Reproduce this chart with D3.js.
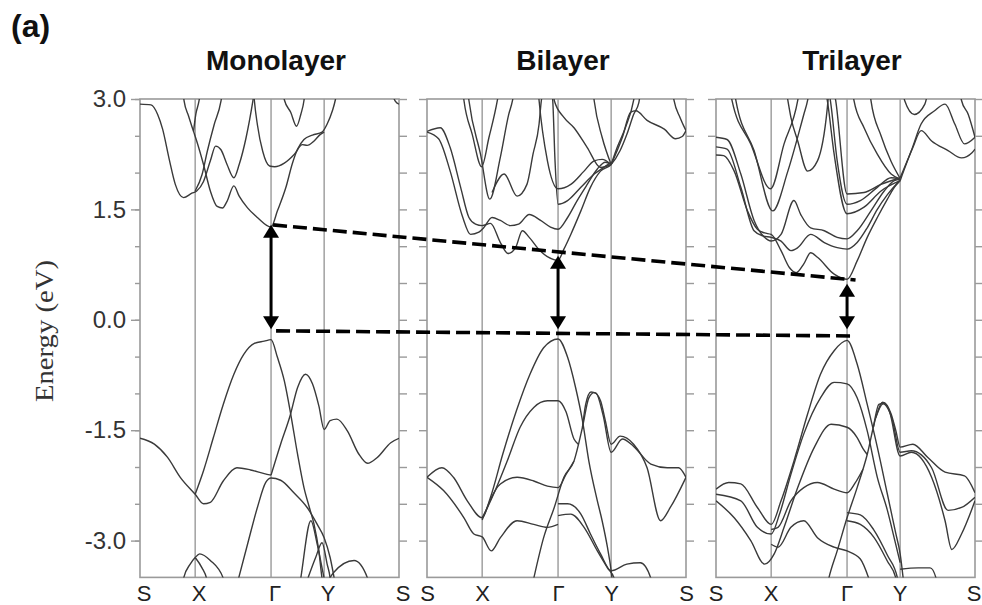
<!DOCTYPE html>
<html>
<head>
<meta charset="utf-8">
<script src="https://cdn.jsdelivr.net/npm/d3@7"></script>
<style>
  body { margin: 0; background: #fff; }
  svg text { font-family: "Liberation Sans", Arial, sans-serif; }
</style>
</head>
<body>
<div id="my_dataviz"></div>
<script>

// chart values
var panelTitles = ["Monolayer", "Bilayer", "Trilayer"];
var kPoints = [0, 1, 2, 3, 4];              // S, X, Gamma, Y, S
var kLabels = ["S", "X", "\u0393", "Y", "S"];
var energyLabels = [-3.0, -1.5, 0.0, 1.5, 3.0];
var energyTicks = [-3.0, -2.5, -2.0, -1.5, -1.0, -0.5, 0.0, 0.5, 1.0, 1.5, 2.0, 2.5, 3.0];

// band gap arrows at Gamma (eV), one per panel
var gapTop = [1.29, 0.87, 0.49];
var gapBottom = [-0.13, -0.13, -0.13];
// dashed guide lines: [start at monolayer, end at trilayer]
var cbmLine = [1.29, 0.54];
var vbmLine = [-0.15, -0.22];

// bands as [k, E] ; k in path units (S=0, X=1, G=2, Y=3, S=4)
var monoConduction = [
  [[0,2.93],[0.2,2.92],[0.32,2.79],[0.41,2.59],[0.53,2.18],[0.64,1.84],[0.79,1.66],[0.94,1.72],[1.02,1.75],[1.11,1.88],[1.2,2.16],[1.27,2.36],[1.34,2.31],[1.42,2.11],[1.51,1.93],[1.58,2.11],[1.67,2.47],[1.76,2.97],[1.78,3.1]],
  [[1.0,1.75],[1.09,1.97],[1.16,2.29],[1.25,2.65],[1.34,2.97],[1.36,3.1]],
  [[0.78,3.1],[0.8,2.97],[0.88,2.77],[0.97,2.56],[1.02,2.43],[1.11,2.11],[1.2,1.75],[1.29,1.54],[1.36,1.52],[1.42,1.61],[1.51,1.82],[1.58,1.68],[1.69,1.52],[1.82,1.39],[2.0,1.26],[2.12,1.48],[2.28,1.8],[2.4,2.12],[2.5,2.32],[2.62,2.45],[2.78,2.51],[2.96,2.55],[3.04,2.66],[3.11,2.84],[3.15,2.99],[3.17,3.1]],
  [[0.97,2.56],[1.01,2.8],[1.05,2.97],[1.07,3.1]],
  [[1.77,3.1],[1.78,2.98],[1.82,2.65],[1.89,2.29],[1.98,2.09],[2.07,2.08],[2.25,2.13],[2.44,2.25],[2.59,2.38],[2.68,2.37],[2.81,2.43],[2.93,2.52],[3.0,2.55]],
  [[2.23,3.1],[2.25,2.99],[2.37,2.82],[2.48,2.63],[2.56,2.79],[2.62,2.98],[2.64,3.1]],
  [[3.9,3.1],[3.95,2.97],[4.0,2.93]]
];
var monoValence = [
  [[1.0,-2.37],[1.11,-2.05],[1.24,-1.6],[1.37,-1.15],[1.51,-0.74],[1.64,-0.47],[1.78,-0.32],[1.91,-0.29],[2.0,-0.27],[2.12,-0.51],[2.25,-0.83],[2.37,-1.28],[2.5,-1.83],[2.62,-2.28],[2.73,-2.57],[2.81,-2.78],[2.9,-3.14],[2.96,-3.51],[2.98,-3.6]],
  [[2.0,-2.11],[2.18,-1.69],[2.36,-1.3],[2.5,-0.92],[2.65,-0.74],[2.78,-0.87],[2.9,-1.17],[3.0,-1.49],[3.08,-1.37],[3.17,-1.35],[3.31,-1.51],[3.46,-1.82],[3.58,-1.95],[3.71,-1.87],[3.89,-1.67],[4.0,-1.61]],
  [[0,-1.61],[0.26,-1.69],[0.5,-1.87],[0.73,-2.14],[1.0,-2.37],[1.11,-2.5],[1.2,-2.48],[1.37,-2.19],[1.55,-2.01],[1.73,-2.04],[1.91,-2.09],[2.0,-2.11]],
  [[1.55,-3.6],[1.69,-3.05],[1.82,-2.55],[1.93,-2.21],[2.0,-2.15],[2.18,-2.18],[2.43,-2.35],[2.68,-2.55],[2.87,-2.78],[3.0,-2.96],[3.08,-3.23],[3.15,-3.6]],
  [[0.77,-3.6],[0.79,-3.51],[0.91,-3.32],[1.0,-3.23],[1.06,-3.18],[1.2,-3.27],[1.37,-3.51],[1.4,-3.6]],
  [[1.0,-3.23],[1.09,-3.37],[1.15,-3.51],[1.17,-3.6]],
  [[2.54,-3.6],[2.56,-3.51],[2.75,-2.73],[2.87,-3.05],[3.0,-3.51],[3.02,-3.6]],
  [[2.65,-3.6],[2.84,-3.23],[2.96,-3.03],[3.04,-3.32],[3.08,-3.51],[3.09,-3.6]],
  [[3.02,-3.6],[3.13,-3.43],[3.4,-3.27],[3.58,-3.51],[3.6,-3.6]]
];

var biConduction = [
  [[0,2.56],[0.24,2.61],[0.42,2.34],[0.61,1.8],[0.76,1.39],[0.88,1.3],[1.0,1.28],[1.11,1.31],[1.24,1.05],[1.34,0.9],[1.44,0.98],[1.53,1.21],[1.62,1.12],[1.77,0.93],[2.0,0.81],[2.11,0.96],[2.24,1.16],[2.43,1.48],[2.61,1.8],[2.8,2.02],[3.0,2.11],[3.12,2.3],[3.21,2.52],[3.3,2.79],[3.37,2.95],[3.39,3.1]],
  [[0,2.55],[0.21,2.46],[0.42,2.02],[0.64,1.41],[0.79,1.16],[0.94,1.19],[1.02,1.25],[1.13,1.39],[1.24,1.35],[1.37,1.28],[1.48,1.3],[1.62,1.43],[1.77,1.35],[1.9,1.26],[2.0,1.23],[2.18,1.39],[2.36,1.62],[2.55,1.84],[2.74,2.05],[2.89,2.14],[3.0,2.11]],
  [[0.65,3.1],[0.67,2.98],[0.82,2.52],[0.99,2.08],[1.09,2.48],[1.2,2.98],[1.22,3.1]],
  [[0.74,3.1],[0.76,2.98],[0.97,2.25],[1.1,1.64],[1.24,2.21],[1.35,2.79],[1.4,2.98],[1.42,3.1]],
  [[1.13,1.73],[1.29,1.98],[1.46,1.68],[1.59,1.84],[1.67,2.25],[1.75,2.66],[1.78,2.98],[1.8,3.1]],
  [[1.74,3.1],[1.75,2.98],[1.86,2.16],[2.0,1.78],[2.24,1.84],[2.49,2.02],[2.68,2.16],[2.83,2.18],[3.0,2.11]],
  [[1.92,3.1],[1.93,2.98],[1.96,2.16],[2.0,1.57],[2.18,1.62],[2.43,1.8],[2.68,1.98],[2.86,2.07],[3.0,2.14]],
  [[1.94,3.1],[1.95,2.98],[2.11,2.75],[2.3,2.61],[2.55,2.34],[2.8,2.07],[3.0,2.11]],
  [[2.66,3.1],[2.68,2.98],[2.83,2.48],[3.0,2.11]],
  [[3.0,2.11],[3.15,2.48],[3.26,2.82],[3.33,2.84],[3.48,2.71],[3.71,2.59],[3.86,2.46],[3.95,2.49],[4.0,2.57]],
  [[3.0,2.11],[3.08,2.34],[3.19,2.61],[3.3,2.98],[3.32,3.1]],
  [[3.82,3.1],[3.84,2.98],[3.92,2.75],[4.0,2.57]]
];
var biValence = [
  [[0,-2.14],[0.27,-2.01],[0.48,-2.14],[0.73,-2.46],[1.0,-2.69],[1.11,-2.41],[1.27,-1.83],[1.45,-1.24],[1.63,-0.74],[1.81,-0.38],[2.0,-0.26],[2.18,-0.51],[2.33,-0.92],[2.46,-1.37],[2.58,-1.92],[2.74,-2.46],[2.83,-2.73],[2.93,-3.09],[3.0,-3.41],[3.02,-3.6]],
  [[0,-2.14],[0.3,-2.32],[0.67,-2.69],[0.85,-2.91],[1.0,-2.95],[1.12,-3.14],[1.24,-2.96],[1.46,-2.73],[1.68,-2.78],[1.86,-2.82],[2.0,-2.78]],
  [[1.0,-2.69],[1.07,-2.55],[1.18,-2.3],[1.33,-1.92],[1.5,-1.46],[1.68,-1.19],[1.86,-1.1],[2.0,-1.1],[2.15,-1.25],[2.3,-1.62],[2.38,-1.69]],
  [[1.0,-2.72],[1.24,-2.23],[1.46,-2.14],[1.68,-2.19],[1.86,-2.26],[2.0,-2.28],[2.15,-2.1],[2.3,-1.92]],
  [[1.66,-3.6],[1.68,-3.51],[1.81,-2.96],[1.95,-2.55],[2.11,-2.14],[2.3,-1.92],[2.46,-1.46],[2.58,-1.06],[2.68,-0.99],[2.8,-1.1],[2.89,-1.37],[3.0,-1.69],[3.12,-1.58],[3.3,-1.69],[3.48,-2.01],[3.66,-2.73],[3.79,-2.55],[4.0,-2.14]],
  [[2.46,-1.46],[2.52,-1.15],[2.62,-0.98],[2.72,-1.0],[2.85,-1.3],[3.0,-1.8],[3.15,-1.62],[3.3,-1.72],[3.53,-1.96],[3.75,-2.01],[3.9,-2.01],[4.0,-2.14]],
  [[2.0,-2.5],[2.18,-2.5],[2.43,-2.64],[2.61,-2.91],[2.8,-3.18],[3.0,-3.41],[3.21,-3.32],[3.39,-3.3],[3.53,-3.51],[3.55,-3.6]],
  [[2.0,-2.66],[2.24,-2.64],[2.49,-2.82],[2.74,-3.14],[2.93,-3.37],[3.04,-3.51],[3.06,-3.6]]
];

var triConduction = [
  [[0,2.24],[0.14,2.23],[0.33,2.02],[0.57,1.48],[0.75,1.23],[0.88,1.18],[1.0,1.16],[1.13,0.94],[1.24,0.71],[1.33,0.64],[1.43,0.76],[1.52,0.91],[1.61,0.85],[1.83,0.62],[2.0,0.55],[2.19,0.8],[2.38,1.12],[2.57,1.39],[2.76,1.64],[2.89,1.8],[3.0,1.89]],
  [[0,2.35],[0.2,2.32],[0.45,1.8],[0.69,1.21],[0.85,1.14],[1.0,1.12],[1.13,1.07],[1.26,0.94],[1.35,0.98],[1.52,1.16],[1.7,1.05],[1.87,0.98],[2.0,0.96],[2.19,1.05],[2.38,1.25],[2.57,1.5],[2.76,1.7],[3.0,1.9]],
  [[0,2.48],[0.2,2.45],[0.45,1.98],[0.69,1.35],[0.88,1.12],[1.0,1.07],[1.13,1.16],[1.3,1.62],[1.39,1.43],[1.52,1.25],[1.7,1.21],[1.87,1.12],[2.0,1.1],[2.19,1.21],[2.45,1.48],[2.7,1.75],[2.89,1.89],[3.0,1.91]],
  [[1.76,3.1],[1.78,2.98],[1.87,2.16],[2.0,1.57],[2.25,1.62],[2.57,1.8],[2.83,1.93],[3.0,1.91]],
  [[1.72,3.1],[1.74,2.98],[1.83,2.25],[2.0,1.44],[2.32,1.53],[2.64,1.75],[3.0,1.89]],
  [[1.83,3.1],[1.85,2.98],[2.0,1.71],[2.32,1.73],[2.64,1.84],[3.0,1.93]],
  [[0.27,3.1],[0.29,2.98],[0.63,2.39],[0.99,1.78],[1.17,2.39],[1.35,2.98],[1.37,3.1]],
  [[0.34,3.1],[0.36,2.98],[0.69,2.3],[1.02,1.48],[1.22,2.02],[1.43,2.79],[1.48,2.98],[1.5,3.1]],
  [[1.2,3.1],[1.22,2.98],[1.26,2.75],[1.35,2.43],[1.48,2.02],[1.61,2.16],[1.74,2.88],[1.76,3.1]],
  [[3.0,1.89],[3.17,2.34],[3.28,2.57],[3.42,2.43],[3.64,2.3],[3.82,2.2],[3.96,2.27],[4.0,2.32]],
  [[3.0,1.93],[3.15,2.3],[3.28,2.66],[3.46,2.84],[3.6,2.93],[3.73,2.66],[3.86,2.39],[4.0,2.48]],
  [[3.8,3.1],[3.82,2.98],[3.91,2.79],[4.0,2.48]],
  [[3.04,3.1],[3.06,2.98],[3.19,2.79],[3.33,2.93],[3.37,3.1]],
  [[2.11,3.1],[2.13,2.98],[2.32,2.61],[2.57,2.25],[2.83,1.98],[3.0,1.91]],
  [[2.43,3.1],[2.45,2.98],[2.64,2.5],[2.83,2.15],[3.0,1.92]]
];
var triValence = [
  [[0,-2.3],[0.23,-2.21],[0.45,-2.23],[0.75,-2.55],[1.0,-2.78],[1.13,-2.46],[1.3,-1.92],[1.48,-1.28],[1.65,-0.74],[1.83,-0.42],[2.0,-0.28],[2.19,-0.6],[2.38,-1.15],[2.57,-1.73],[2.76,-2.37],[2.92,-2.91],[3.0,-3.18],[3.05,-3.6]],
  [[0,-2.37],[0.45,-2.46],[0.75,-2.82],[1.0,-2.91],[1.11,-2.64],[1.26,-2.1],[1.43,-1.55],[1.65,-1.06],[1.83,-0.85],[2.0,-0.87],[2.19,-1.06],[2.38,-1.51],[2.57,-2.14],[2.76,-2.59],[2.9,-3.0],[3.0,-3.3]],
  [[0,-2.46],[0.33,-2.69],[0.63,-3.0],[0.88,-3.32],[1.04,-3.18],[1.17,-2.82],[1.35,-2.28],[1.57,-1.73],[1.79,-1.42],[2.0,-1.46],[2.19,-1.6],[2.3,-1.75],[2.38,-1.83]],
  [[1.0,-2.85],[1.09,-2.82],[1.26,-2.46],[1.43,-2.28],[1.61,-2.21],[1.83,-2.3],[2.0,-2.35],[2.15,-2.22],[2.3,-2.03]],
  [[1.0,-3.05],[1.09,-3.09],[1.26,-2.82],[1.43,-2.73],[1.61,-2.96],[1.83,-3.09],[2.0,-3.14],[2.25,-3.25],[2.45,-3.6]],
  [[1.74,-3.6],[1.76,-3.51],[1.87,-3.14],[2.0,-2.69],[2.19,-2.28],[2.38,-1.83],[2.54,-1.33],[2.67,-1.12],[2.83,-1.28],[2.92,-1.51],[3.0,-1.73],[3.17,-1.69],[3.37,-1.87],[3.6,-2.07],[3.86,-2.12],[4.0,-2.35]],
  [[2.5,-1.45],[2.6,-1.15],[2.7,-1.13],[2.85,-1.35],[3.0,-1.8],[3.15,-1.78],[3.42,-2.01],[3.64,-2.59],[3.82,-2.55],[4.0,-2.41]],
  [[2.54,-1.33],[2.68,-1.14],[2.8,-1.25],[3.0,-1.85],[3.15,-1.8],[3.42,-2.14],[3.6,-2.73],[3.69,-3.12],[3.82,-2.91],[4.0,-2.46]],
  [[2.0,-2.73],[2.25,-2.78],[2.51,-2.96],[2.76,-3.28],[2.92,-3.51],[2.94,-3.6]],
  [[2.0,-2.62],[2.25,-2.65],[2.5,-2.85],[2.76,-3.2],[2.95,-3.51],[2.97,-3.6]],
  [[3.0,-3.39],[3.24,-3.37],[3.4,-3.37],[3.48,-3.51],[3.5,-3.6]]
];

var panelBands = [
  monoConduction.concat(monoValence),
  biConduction.concat(biValence),
  triConduction.concat(triValence)
];

// layout
var width = 982, height = 605;
var panelLeft = [140, 427, 716],
    panelWidth = 259,
    plotTop = 99,
    plotBottom = 577.4;
var kFrac = [0, 0.213, 0.506, 0.711, 1];
var labelShift = [4, 0.5, 0];

var svg = d3.select("#my_dataviz")
  .append("svg")
    .attr("width", width)
    .attr("height", height)
    .style("display", "block");

svg.append("rect")
    .attr("width", width)
    .attr("height", height)
    .attr("fill", "#fff");

// shared energy scale
var y = d3.scaleLinear()
  .domain([-3.5, 3.0])
  .range([plotBottom, plotTop]);

var gridColor = "#9a9a9a";

var xs = [];

panelLeft.forEach(function(left, i) {

  var x = d3.scaleLinear()
    .domain(kPoints)
    .range(kFrac.map(function(f) { return left + f * panelWidth; }));
  xs.push(x);

  var g = svg.append("g");

  g.append("clipPath")
      .attr("id", "clip" + i)
    .append("rect")
      .attr("x", left)
      .attr("y", plotTop)
      .attr("width", panelWidth)
      .attr("height", plotBottom - plotTop);

  // high symmetry lines
  g.selectAll(".kline")
    .data(kPoints.slice(1, 4))
    .enter().append("line")
      .attr("x1", function(d) { return x(d); })
      .attr("x2", function(d) { return x(d); })
      .attr("y1", plotTop)
      .attr("y2", plotBottom)
      .attr("stroke", gridColor)
      .attr("stroke-width", 1.4);

  // left ticks
  var leftAxis = g.append("g")
    .attr("transform", "translate(" + left + ",0)")
    .call(d3.axisLeft(y).tickValues(energyTicks).tickSize(i == 0 ? 5 : 8).tickFormat(""));
  // right ticks
  var rightAxis = g.append("g")
    .attr("transform", "translate(" + (left + panelWidth) + ",0)")
    .call(d3.axisRight(y).tickValues(energyTicks).tickSize(8).tickFormat(""));

  [leftAxis, rightAxis].forEach(function(a) {
    a.select(".domain").remove();
    a.selectAll("line").attr("stroke", gridColor).attr("stroke-width", 1.4);
  });

  if (i == 0) {
    var labAxis = g.append("g")
      .attr("transform", "translate(" + left + ",0)")
      .call(d3.axisLeft(y).tickValues(energyLabels).tickSize(9).tickPadding(5)
        .tickFormat(function(d) { return d.toFixed(1); }));
    labAxis.select(".domain").remove();
    labAxis.selectAll("line").attr("stroke", gridColor).attr("stroke-width", 1.4);
    labAxis.selectAll("text")
      .attr("font-family", "Liberation Sans, Arial, sans-serif")
      .attr("font-size", 24)
      .attr("fill", "#333");
  }

  // frame
  g.append("rect")
    .attr("x", left)
    .attr("y", plotTop)
    .attr("width", panelWidth)
    .attr("height", plotBottom - plotTop)
    .attr("fill", "none")
    .attr("stroke", gridColor)
    .attr("stroke-width", 1.6);

  // bands
  var line = d3.line()
    .x(function(d) { return x(d[0]); })
    .y(function(d) { return y(d[1]); })
    .curve(d3.curveMonotoneX);

  g.append("g")
    .attr("clip-path", "url(#clip" + i + ")")
    .selectAll("path")
    .data(panelBands[i])
    .enter().append("path")
      .attr("d", line)
      .attr("fill", "none")
      .attr("stroke", "#3a3a3a")
      .attr("stroke-width", 1.4);

  // k labels
  g.selectAll(".klab")
    .data(kLabels)
    .enter().append("text")
      .attr("x", function(d, j) { return Math.min(x(kPoints[j]) + labelShift[i], width - 8); })
      .attr("y", 601)
      .attr("text-anchor", "middle")
      .attr("font-size", 22)
      .attr("font-family", function(d) { return d == "\u0393" ? "Liberation Serif, Times New Roman, serif" : "Liberation Sans, Arial, sans-serif"; })
      .attr("fill", "#222")
      .text(function(d) { return d; });

  // title
  g.append("text")
    .attr("x", left + panelWidth * 0.525)
    .attr("y", 70)
    .attr("text-anchor", "middle")
    .attr("font-size", 28)
    .attr("font-weight", "bold")
    .attr("fill", "#111")
    .text(panelTitles[i]);
});

// y axis title
svg.append("text")
  .attr("transform", "translate(53," + 331 + ") rotate(-90)")
  .attr("text-anchor", "middle")
  .style("font-family", "Liberation Serif, Times New Roman, serif")
  .attr("font-size", 26)
  .attr("fill", "#333")
  .attr("textLength", 142)
  .attr("lengthAdjust", "spacingAndGlyphs")
  .text("Energy (eV)");

// panel tag
svg.append("text")
  .attr("x", 11)
  .attr("y", 37)
  .attr("font-size", 32)
  .attr("font-weight", "bold")
  .attr("fill", "#111")
  .text("(a)");

// dashed guide lines from monolayer Gamma to trilayer Gamma
var guides = [cbmLine, vbmLine];
svg.selectAll(".guide")
  .data(guides)
  .enter().append("line")
    .attr("x1", function(d, j) { return xs[0](2) + (j == 0 ? 2 : 5); })
    .attr("y1", function(d) { return y(d[0]); })
    .attr("x2", xs[2](2.16))
    .attr("y2", function(d) { return y(d[1]); })
    .attr("stroke", "#000")
    .attr("stroke-width", 3.6)
    .attr("stroke-dasharray", "14,6");

// double headed gap arrows
gapTop.forEach(function(e, i) {
  var ax = xs[i](2),
      yt = y(e),
      yb = y(gapBottom[i]);
  svg.append("line")
    .attr("x1", ax).attr("x2", ax)
    .attr("y1", yt + 10).attr("y2", yb - 10)
    .attr("stroke", "#000")
    .attr("stroke-width", 3);
  svg.append("path")
    .attr("d", "M" + ax + "," + yt + "l-8,13h16z")
    .attr("fill", "#000");
  svg.append("path")
    .attr("d", "M" + ax + "," + yb + "l-8,-13h16z")
    .attr("fill", "#000");
});

</script>
</body>
</html>
